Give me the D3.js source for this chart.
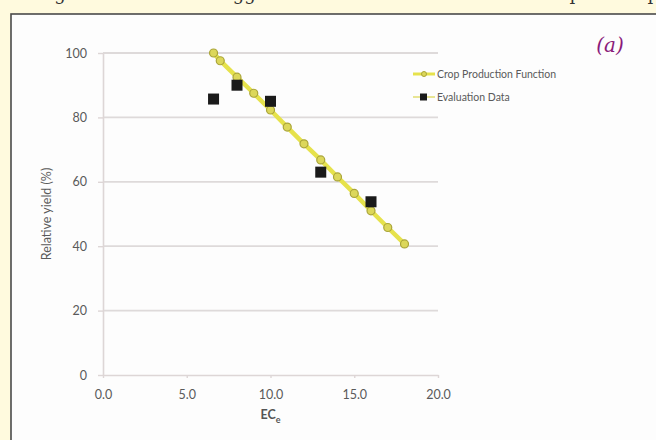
<!DOCTYPE html>
<html>
<head>
<meta charset="utf-8">
<script src="https://cdn.jsdelivr.net/npm/d3@7"></script>
<style>
  body { margin: 0; background: #fffade; }
  svg { display: block; }
</style>
</head>
<body>
<div id="chart"></div>
<script>
// DATA
var cropEC = [6.6, 7.0, 8.0, 9.0, 10.0, 11.0, 12.0, 13.0, 14.0, 15.0, 16.0, 17.0, 18.0];
var cropYield = [100, 97.6, 92.5, 87.5, 82.3, 77.0, 71.8, 66.8, 61.5, 56.4, 51.0, 45.8, 40.7];
var evalEC = [6.6, 8.0, 10.0, 13.0, 16.0];
var evalYield = [85.7, 90.0, 85.0, 63.0, 53.8];
var xTicks = [0, 5, 10, 15, 20];
var yTicks = [0, 20, 40, 60, 80, 100];
var seriesNames = ["Crop Production Function", "Evaluation Data"];

(function () {
  var W = 656, H = 440;
  var svg = d3.select("#chart").append("svg")
    .attr("width", W)
    .attr("height", H);

  // page background + bottom of the caption line above the panel
  svg.append("rect").attr("width", W).attr("height", H).attr("fill", "#fffade");
  var caption = [["Figure", 36], ["suggested", 212], ["crop", 540], ["up", 636]];
  svg.selectAll(".cap").data(caption).enter().append("text")
    .attr("class", "cap")
    .attr("x", function (d) { return d[1]; })
    .attr("y", 0)
    .attr("font-family", "DejaVu Serif, serif")
    .attr("font-size", 18)
    .attr("fill", "#333")
    .text(function (d) { return d[0]; });

  // panel
  svg.append("rect")
    .attr("x", 11).attr("y", 14)
    .attr("width", W).attr("height", H)
    .attr("fill", "#fdfdfd")
    .attr("stroke", "#4a4a4a")
    .attr("stroke-width", 1.6);

  var x = d3.scaleLinear().domain([0, 20]).range([103, 438]);
  var y = d3.scaleLinear().domain([0, 100]).range([375, 53]);

  // gridlines
  svg.append("g").selectAll("line").data(yTicks.filter(function (d) { return d > 0; }))
    .enter().append("line")
    .attr("x1", x(0)).attr("x2", x(20))
    .attr("y1", function (d) { return y(d); })
    .attr("y2", function (d) { return y(d); })
    .attr("stroke", "#dedada")
    .attr("stroke-width", 1.8);

  // axes
  var xAxis = svg.append("g")
    .attr("transform", "translate(0," + y(0) + ")")
    .call(d3.axisBottom(x).tickValues(xTicks).tickSize(3).tickSizeOuter(0)
      .tickFormat(d3.format(".1f")));
  var yAxis = svg.append("g")
    .attr("transform", "translate(" + x(0) + ",0)")
    .call(d3.axisLeft(y).tickValues(yTicks).tickSize(5).tickSizeOuter(0));

  [xAxis, yAxis].forEach(function (a) {
    a.select(".domain").attr("stroke", "#ddd6d6").attr("stroke-width", 1.6);
    a.selectAll(".tick line").attr("stroke", "#ddd6d6").attr("stroke-width", 1.4);
    a.selectAll(".tick text")
      .attr("fill", "#5a5a5a")
      .attr("font-family", "Lato, Open Sans, sans-serif")
      .attr("font-size", 12.5);
  });
  xAxis.selectAll(".tick text").attr("y", 8).attr("dy", "1.3em");
  yAxis.selectAll(".tick text").attr("x", -16);

  // axis titles
  svg.append("text")
    .attr("transform", "translate(51," + y(50) + ") rotate(-90)")
    .attr("text-anchor", "middle")
    .attr("font-family", "Lato, Open Sans, sans-serif")
    .attr("font-size", 12.5)
    .attr("fill", "#5a5a5a")
    .text("Relative yield (%)");

  var xt = svg.append("text")
    .attr("x", x(10))
    .attr("y", 419)
    .attr("text-anchor", "middle")
    .attr("font-family", "Lato, Open Sans, sans-serif")
    .attr("font-size", 12.5)
    .attr("font-weight", "bold")
    .attr("fill", "#555");
  xt.append("tspan").text("EC");
  xt.append("tspan").attr("font-size", 9).attr("dy", 4).text("e");

  // crop production function
  var cropData = cropEC.map(function (d, i) { return [d, cropYield[i]]; });
  svg.append("path")
    .datum(cropData)
    .attr("fill", "none")
    .attr("stroke", "#e6e24c")
    .attr("stroke-width", 4.5)
    .attr("d", d3.line()
      .x(function (d) { return x(d[0]); })
      .y(function (d) { return y(d[1]); }));

  svg.append("g").selectAll("circle").data(cropData)
    .enter().append("circle")
    .attr("cx", function (d) { return x(d[0]); })
    .attr("cy", function (d) { return y(d[1]); })
    .attr("r", 4)
    .attr("fill", "#dcd75a")
    .attr("stroke", "#aaa53a")
    .attr("stroke-width", 1.2);

  // evaluation data
  var evalData = evalEC.map(function (d, i) { return [d, evalYield[i]]; });
  svg.append("g").selectAll("rect").data(evalData)
    .enter().append("rect")
    .attr("x", function (d) { return x(d[0]) - 5.5; })
    .attr("y", function (d) { return y(d[1]) - 5.5; })
    .attr("width", 11)
    .attr("height", 11)
    .attr("fill", "#1a1a1a");

  // legend
  var leg = svg.append("g");
  var rowY = [74, 97];
  leg.append("line").attr("x1", 413).attr("x2", 435).attr("y1", rowY[0]).attr("y2", rowY[0])
    .attr("stroke", "#e6e24c").attr("stroke-width", 3);
  leg.append("circle").attr("cx", 424).attr("cy", rowY[0]).attr("r", 2.5)
    .attr("fill", "#dcd75a").attr("stroke", "#aaa53a");
  leg.append("line").attr("x1", 413).attr("x2", 435).attr("y1", rowY[1]).attr("y2", rowY[1])
    .attr("stroke", "#e0dc70").attr("stroke-width", 1.5);
  leg.append("rect").attr("x", 420).attr("y", rowY[1] - 3.5).attr("width", 7).attr("height", 7)
    .attr("fill", "#1a1a1a");
  leg.selectAll("text").data(seriesNames).enter().append("text")
    .attr("x", 437)
    .attr("y", function (d, i) { return rowY[i]; })
    .attr("dy", "0.35em")
    .attr("font-family", "Lato, Open Sans, sans-serif")
    .attr("font-size", 10.5)
    .attr("fill", "#5a5a5a")
    .text(function (d) { return d; });

  // panel tag
  svg.append("text")
    .attr("x", 610).attr("y", 52)
    .attr("text-anchor", "middle")
    .attr("font-family", "DejaVu Serif, Liberation Serif, serif")
    .attr("font-style", "italic")
    .attr("font-size", 20)
    .attr("fill", "#8a1a7a")
    .text("(a)");
})();
</script>
</body>
</html>
